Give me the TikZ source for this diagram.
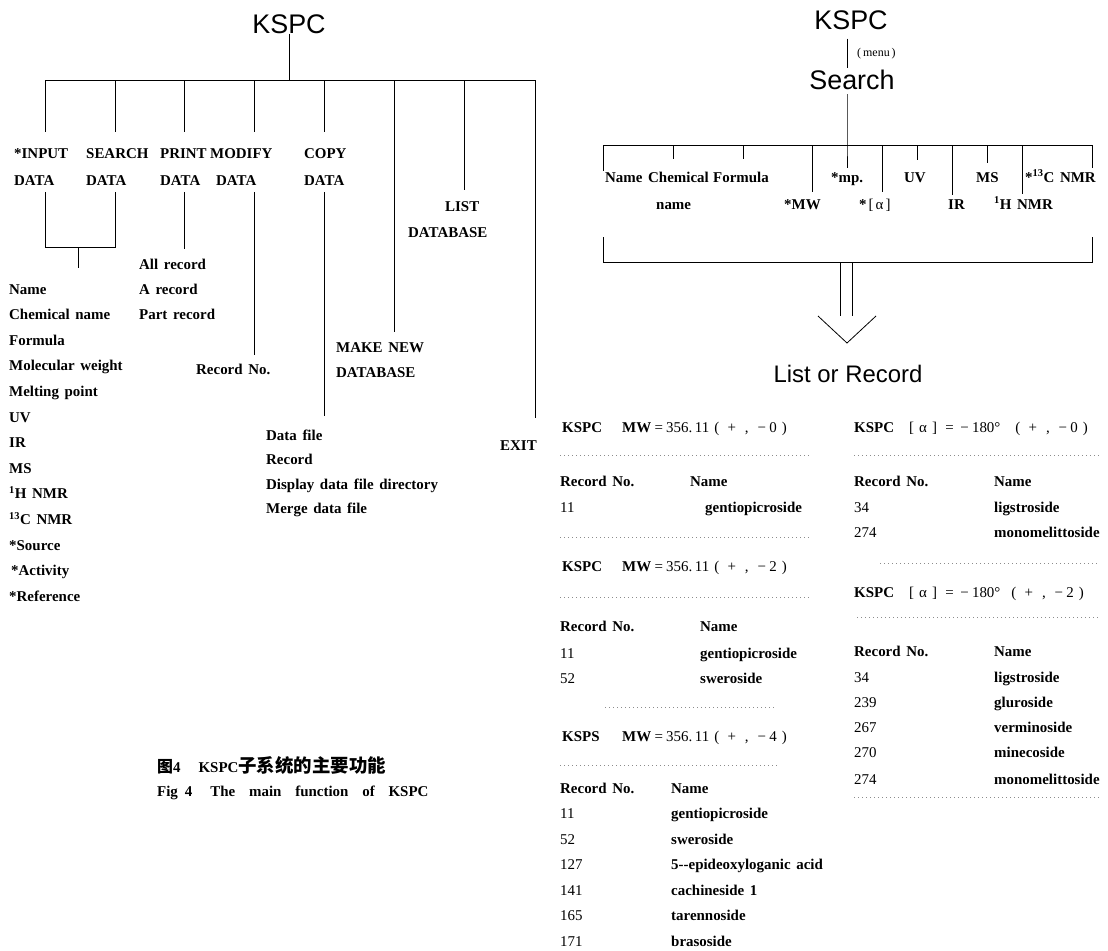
\documentclass[tikz,border=0pt]{standalone}
\usepackage{fontspec}
\setmainfont{Liberation Serif}[WordSpace=1.5]
\newfontfamily\capfont{Liberation Serif}[WordSpace=3.7]
\newfontfamily\ttlfont{Liberation Sans}
\newfontfamily\cjk{Noto Sans CJK SC}
\newcommand\fw[1]{\makebox[15bp]{#1}}
\usetikzlibrary{calc}

\begin{document}
\begin{tikzpicture}[x=1bp, y=-1bp,
  ttl/.style={font=\ttlfont\fontsize{27}{30}\selectfont, inner sep=0pt},
  lbl/.style={font=\bfseries\fontsize{15}{27}\selectfont, align=left, inner sep=0pt, anchor=west},
  itm/.style={font=\bfseries\fontsize{15}{18}\selectfont,
    inner sep=0pt, anchor=west, text height=11bp, text depth=3bp},
  num/.style={itm, font=\mdseries\fontsize{15}{18}\selectfont},
  ln/.style={line width=0.8bp},
  dotrule/.style={black!45, line width=0.9bp, dash pattern=on 1.2bp off 2.8bp}
]
\useasboundingbox (0,0) rectangle (1108,951);

\node[ttl] (kspcL) at (289,24) {KSPC};
\coordinate (b1) at (45,80);
\coordinate (b2) at (115,80);
\coordinate (b3) at (184,80);
\coordinate (b4) at (254,80);
\coordinate (b5) at (324,80);
\coordinate (b6) at (394,80);
\coordinate (b7) at (464,80);
\coordinate (b8) at (535,80);
\draw[ln] (kspcL) -- (kspcL |- b1);
\draw[ln] (b1) -- (b8);
\draw[ln] (b1) -- +(0,52) (b2) -- +(0,52) (b3) -- +(0,52) (b4) -- +(0,52) (b5) -- +(0,52);

\node[lbl] (inp) at (14,167) {*INPUT\\DATA};
\node[lbl] (srchd) at (86,167) {SEARCH\\DATA};
\node[lbl] (prnt) at (160,167) {PRINT\\DATA};
\node[lbl] (mdfy) at (210,167) {MODIFY\\\hspace{6bp}DATA};
\node[lbl] (cpy) at (304,167) {COPY\\DATA};

\coordinate (u1) at (45,192);
\coordinate (u2) at (115,192);
\coordinate (u3) at (184,192);
\coordinate (u4) at (254,192);
\coordinate (u5) at (324,192);
\coordinate (j1) at (45,247);
\coordinate (j2) at (115,247);
\coordinate (jm) at (78,247);
\draw[ln] (u1) -- (j1) -- (j2) -- (u2);
\draw[ln] (jm) -- +(0,21);
\draw[ln] (u3) -- +(0,57);
\draw[ln] (u4) -- +(0,163);
\draw[ln] (u5) -- +(0,224);
\draw[ln] (b6) -- +(0,252);
\draw[ln] (b7) -- +(0,110);
\draw[ln] (b8) -- +(0,338);

\node[itm] (fld1) at (9,290) {Name};
\node[itm] (fld2) at (9,315.6) {Chemical name};
\node[itm] (fld3) at (9,341.2) {Formula};
\node[itm] (fld4) at (9,366.8) {Molecular weight};
\node[itm] (fld5) at (9,392.4) {Melting point};
\node[itm] (fld6) at (9,418) {UV};
\node[itm] (fld7) at (9,443.6) {IR};
\node[itm] (fld8) at (9,469.2) {MS};
\node[itm] (fld9) at (9,494.8) {\textsuperscript{1}H NMR};
\node[itm] (fld10) at (9,520.4) {\textsuperscript{13}C NMR};
\node[itm] (fld11) at (9,546) {*Source};
\node[itm] (fld12) at (11,571.6) {*Activity};
\node[itm] (fld13) at (9,597.2) {*Reference};

\node[itm] (pr1) at (139,265) {All record};
\node[itm] (pr2) at (139,290) {A record};
\node[itm] (pr3) at (139,315) {Part record};
\node[itm] (recno) at (196,370) {Record No.};
\node[itm] (mk1) at (336,348) {MAKE NEW};
\node[itm] (mk2) at (336,373) {DATABASE};
\node[itm] (ls1) at (445,207) {LIST};
\node[itm] (ls2) at (408,233) {DATABASE};
\node[itm] (cp1) at (266,436) {Data file};
\node[itm] (cp2) at (266,460.5) {Record};
\node[itm] (cp3) at (266,485) {Display data file directory};
\node[itm] (cp4) at (266,509.5) {Merge data file};
\node[itm] (ext) at (500,446) {EXIT};

\node[itm] (capzh) at (157,768) {{\cjk\bfseries\fontsize{16}{18}\selectfont 图}4\hspace{18bp}KSPC{\cjk\bfseries\fontsize{18.5}{20}\selectfont 子系统的主要功能}};
\node[itm, font=\capfont\bfseries\fontsize{15}{18}\selectfont] (capen) at (157,792) {Fig\hspace{7bp}4\hspace{18bp}The main function of KSPC};

\node[ttl] (kspcR) at (851,20) {KSPC};
\node[ttl] (search) at (852,80) {Search};
\coordinate (c1) at (603,145);
\coordinate (c2) at (673,145);
\coordinate (c3) at (743,145);
\coordinate (c4) at (812,145);
\coordinate (c5) at (847,145);
\coordinate (c6) at (882,145);
\coordinate (c7) at (917,145);
\coordinate (c8) at (952,145);
\coordinate (c9) at (987,145);
\coordinate (c10) at (1022,145);
\coordinate (c11) at (1092,145);
\draw[ln, shorten <=9bp, shorten >=2bp] (kspcR.south -| c5) -- (search.north -| c5);
\node[num, font=\fontsize{12}{14}\selectfont] (menu) at (857,52) {(\,menu\,)};
\draw[ln, shorten <=4bp] (search.south -| c5) -- (c5) -- +(0,23);
\draw[ln] (c1) -- (c11);
\draw[ln] (c1) -- +(0,26) (c2) -- +(0,14) (c3) -- +(0,14) (c4) -- +(0,47)
  (c6) -- +(0,47) (c7) -- +(0,15) (c8) -- +(0,50) (c9) -- +(0,18)
  (c10) -- +(0,49) (c11) -- +(0,23);

\node[itm] (sk1) at (605,178) {Name};
\node[itm] (sk2) at (648,178) {Chemical};
\node[itm] (sk2b) at (656,205) {name};
\node[itm] (sk3) at (713,178) {Formula};
\node[itm] (sk4) at (784,205) {*MW};
\node[itm] (sk5) at (831,178) {*mp.};
\node[itm] (sk6) at (859,205) {*\mdseries\makebox[9bp]{[}α\makebox[9bp]{]}};
\node[itm] (sk7) at (904,178) {UV};
\node[itm] (sk8) at (948,205) {IR};
\node[itm] (sk9) at (976,178) {MS};
\node[itm] (sk10) at (994,205) {\textsuperscript{1}H NMR};
\node[itm] (sk11) at (1025,178) {*\textsuperscript{13}C NMR};

\coordinate (d1) at (603,237);
\coordinate (d2) at (603,262);
\coordinate (d3) at (1092,262);
\coordinate (d4) at (1092,237);
\draw[ln] (d1) -- (d2) -- (d3) -- (d4);
\coordinate (s1) at (840,262);
\coordinate (s2) at (852,262);
\draw[ln] (s1) -- +(0,54) (s2) -- +(0,54);
\coordinate (vl) at (818,316);
\coordinate (vt) at (847,343);
\coordinate (vr) at (876,316);
\draw[ln] (vl) -- (vt) -- (vr);
\node[ttl, font=\ttlfont\fontsize{24}{26}\selectfont] (lor) at (848,374) {List or Record};

\node[itm] (ka) at (562,428) {KSPC};
\node[num] (kav) at (622,428) {{\bfseries MW}\fw{=}356.\,11\fw{(}\fw{+}\fw{,}\fw{−}0\fw{)}};
\draw[dotrule] (560,455) -- (812,455);
\node[itm] (ha1) at (560,482) {Record No.};
\node[itm] (ha2) at (690,482) {Name};
\node[num] (ra1) at (560,508) {11};
\node[itm] (ra2) at (705,508) {gentiopicroside};
\draw[dotrule] (560,537) -- (812,537);
\node[itm] (kb) at (562,567) {KSPC};
\node[num] (kbv) at (622,567) {{\bfseries MW}\fw{=}356.\,11\fw{(}\fw{+}\fw{,}\fw{−}2\fw{)}};
\draw[dotrule] (560,597) -- (812,597);
\node[itm] (hb1) at (560,627) {Record No.};
\node[itm] (hb2) at (700,627) {Name};
\node[num] (rb1) at (560,654) {11};
\node[itm] (rb2) at (700,654) {gentiopicroside};
\node[num] (rb3) at (560,679) {52};
\node[itm] (rb4) at (700,679) {sweroside};
\draw[dotrule] (605,707) -- (777,707);
\node[itm] (kc) at (562,737) {KSPS};
\node[num] (kcv) at (622,737) {{\bfseries MW}\fw{=}356.\,11\fw{(}\fw{+}\fw{,}\fw{−}4\fw{)}};
\draw[dotrule] (560,765) -- (777,765);
\node[itm] (hc1) at (560,789) {Record No.};
\node[itm] (hc2) at (671,789) {Name};
\node[num] (rc1) at (560,814) {11};
\node[itm] (rc2) at (671,814) {gentiopicroside};
\node[num] (rc3) at (560,840) {52};
\node[itm] (rc4) at (671,840) {sweroside};
\node[num] (rc5) at (560,865) {127};
\node[itm] (rc6) at (671,865) {5-{}-epideoxyloganic acid};
\node[num] (rc7) at (560,891) {141};
\node[itm] (rc8) at (671,891) {cachineside 1};
\node[num] (rc9) at (560,916) {165};
\node[itm] (rc10) at (671,916) {tarennoside};
\node[num] (rc11) at (560,942) {171};
\node[itm] (rc12) at (671,942) {brasoside};

\node[itm] (kd) at (854,428) {KSPC};
\node[num] (kdv) at (904,428) {\fw{[}α\fw{]}\fw{=}\fw{−}180°\hspace{10bp}\fw{(}\fw{+}\fw{,}\fw{−}0\fw{)}};
\draw[dotrule] (854,455) -- (1100,455);
\node[itm] (hd1) at (854,482) {Record No.};
\node[itm] (hd2) at (994,482) {Name};
\node[num] (rd1) at (854,508) {34};
\node[itm] (rd2) at (994,508) {ligstroside};
\node[num] (rd3) at (854,533) {274};
\node[itm] (rd4) at (994,533) {monomelittoside};
\draw[dotrule] (880,563) -- (1100,563);
\node[itm] (ke) at (854,593) {KSPC};
\node[num] (kev) at (904,593) {\fw{[}α\fw{]}\fw{=}\fw{−}180°\hspace{6bp}\fw{(}\fw{+}\fw{,}\fw{−}2\fw{)}};
\draw[dotrule] (857,617) -- (1100,617);
\node[itm] (he1) at (854,652) {Record No.};
\node[itm] (he2) at (994,652) {Name};
\node[num] (re1) at (854,678) {34};
\node[itm] (re2) at (994,678) {ligstroside};
\node[num] (re3) at (854,703) {239};
\node[itm] (re4) at (994,703) {gluroside};
\node[num] (re5) at (854,728) {267};
\node[itm] (re6) at (994,728) {verminoside};
\node[num] (re7) at (854,753) {270};
\node[itm] (re8) at (994,753) {minecoside};
\node[num] (re9) at (854,780) {274};
\node[itm] (re10) at (994,780) {monomelittoside};
\draw[dotrule] (854,797) -- (1100,797);
\end{tikzpicture}
\end{document}
